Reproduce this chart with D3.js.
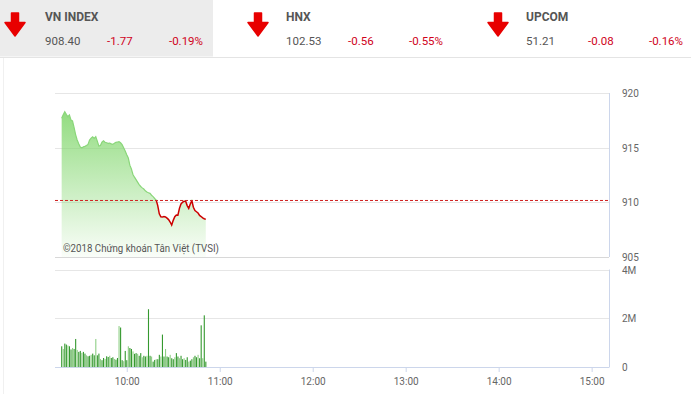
<!DOCTYPE html>
<html>
<head>
<meta charset="utf-8">
<script src="https://cdn.jsdelivr.net/npm/d3@7"></script>
<style>
    body { margin: 0; background: #fff; font-family: Roboto, "Noto Sans", sans-serif; }
    svg text { font-family: Roboto, "Noto Sans", sans-serif; }
</style>
</head>
<body>
<div id="chart"></div>
<script>
// header quotes
const index_names = ["VN INDEX", "HNX", "UPCOM"];
const index_values = ["908.40", "102.53", "51.21"];
const index_changes = ["-1.77", "-0.56", "-0.08"];
const index_pcts = ["-0.19%", "-0.55%", "-0.16%"];

// intraday VN-Index, one point per minute from 9:18
const start_minute = 9 * 60 + 18;
const prices = [
    917.68, 918.00, 918.29, 918.05, 917.83, 917.99, 917.53, 917.44, 916.85, 916.20,
    915.70, 915.35, 915.05, 914.98, 915.07, 915.12, 915.20, 915.30, 915.70, 915.88,
    916.00, 915.85, 916.00, 915.60, 915.15, 915.20, 915.50, 915.62, 915.50, 915.45,
    915.40, 915.42, 915.35, 915.30, 915.40, 915.49, 915.52, 915.55, 915.45, 915.28,
    915.00, 914.70, 914.35, 914.05, 913.40, 913.05, 912.55, 912.30, 912.08, 911.85,
    911.62, 911.45, 911.32, 911.22, 911.05, 910.95, 910.88, 910.82, 910.65, 910.52,
    910.35, 910.20, 909.70, 908.95, 908.68, 908.65, 908.70, 908.66, 908.55, 908.42,
    908.20, 907.92, 908.35, 908.68, 908.84, 908.82, 909.45, 909.85, 910.00, 910.12,
    910.10, 909.70, 909.45, 909.85, 910.15, 909.55, 909.25, 909.14, 909.02, 908.80,
    908.70, 908.58, 908.50, 908.44
];
// volume, millions of shares per minute
const volumes = [
    0.85, 0.74, 0.96, 0.92, 0.88, 0.85, 0.72, 0.78, 0.74, 1.15,
    0.70, 0.62, 0.66, 0.58, 0.62, 0.55, 0.48, 0.44, 0.46, 0.50,
    0.55, 0.48, 1.15, 0.48, 0.55, 0.33, 0.28, 0.37, 0.33, 0.44,
    0.41, 0.46, 0.37, 0.40, 0.33, 0.30, 0.37, 1.68, 1.62, 0.28,
    0.24, 0.66, 0.28, 0.85, 0.78, 0.74, 0.64, 0.54, 0.57, 0.54,
    0.46, 0.57, 0.40, 0.46, 0.43, 0.46, 2.37, 0.46, 0.43, 0.22,
    0.29, 0.32, 0.32, 0.50, 0.43, 1.33, 0.43, 0.74, 0.43, 0.40,
    0.50, 0.36, 0.32, 0.40, 0.57, 0.43, 0.36, 0.46, 0.32, 0.36,
    0.29, 0.40, 0.22, 0.26, 0.32, 0.40, 0.46, 0.40, 0.50, 0.36,
    1.71, 0.36, 2.12, 0.22
];
const prev_close = 910.17;
const price_ticks = [905, 910, 915, 920];
const volume_ticks = [0, 2, 4];
const hour_ticks = [10, 11, 12, 13, 14, 15];

const width = 691;
const height = 394;
const plot_left = 55;
const plot_right = 609;
const price_top = 93;
const price_bottom = 257;
const vol_top = 269.5;
const vol_bottom = 367;

const up_color = "#8ad67a";
const down_color = "#cc0000";
const text_color = "#666666";
const grid_color = "#e6e6e6";
const frame_color = "#ccd6eb";

const svg = d3.select("#chart").append("svg")
    .attr("width", width)
    .attr("height", height);

// ---- header ----
svg.append("rect")
    .attr("x", 0).attr("y", 0)
    .attr("width", 213).attr("height", 56.5)
    .attr("fill", "#ececec");
svg.append("line")
    .attr("x1", 0).attr("x2", width)
    .attr("y1", 57.5).attr("y2", 57.5)
    .attr("stroke", "#e4e4e4");
svg.append("line")
    .attr("x1", 3.5).attr("x2", 3.5)
    .attr("y1", 58).attr("y2", height)
    .attr("stroke", "#f0f0f0");

const arrow_cx = [15, 258, 498];
const label_x = [45, 286, 526];
const pct_x = [203, 443, 683];
const arrow_path = "M-3.5,0 L3.5,0 L3.5,9.5 L10,9.5 L0,23 L-10,9.5 L-3.5,9.5 Z";
index_names.forEach(function (name, i) {
    svg.append("path")
        .attr("d", arrow_path)
        .attr("transform", `translate(${arrow_cx[i]},13)`)
        .attr("fill", "#e80000")
        .attr("stroke", "#e80000")
        .attr("stroke-linejoin", "round")
        .attr("stroke-width", 1.5);
    const tx = label_x[i];
    svg.append("text")
        .attr("x", tx).attr("y", 21)
        .attr("font-size", 12)
        .attr("font-weight", "bold")
        .attr("fill", "#555")
        .text(name);
    svg.append("text")
        .attr("x", tx).attr("y", 45)
        .attr("font-size", 11.5)
        .attr("fill", "#555")
        .text(index_values[i]);
    svg.append("text")
        .attr("x", tx + 62).attr("y", 45)
        .attr("font-size", 11.5)
        .attr("fill", "#d0021b")
        .text(index_changes[i]);
    svg.append("text")
        .attr("x", pct_x[i]).attr("y", 45)
        .attr("text-anchor", "end")
        .attr("font-size", 11.5)
        .attr("fill", "#d0021b")
        .text(index_pcts[i]);
});

// ---- scales ----
const xScale = d3.scaleLinear()
    .domain([553.7, 911.2])
    .range([plot_left, plot_right]);
const yPrice = d3.scaleLinear()
    .domain([905, 920])
    .range([price_bottom, price_top]);
const yVol = d3.scaleLinear()
    .domain([0, 4])
    .range([vol_bottom, vol_top]);

const series = prices.map((p, i) => ({t: start_minute + i, p: p, v: volumes[i]}));

// ---- price panel ----
const defs = svg.append("defs");
const grad = defs.append("linearGradient")
    .attr("id", "area_grad")
    .attr("x1", 0).attr("x2", 0).attr("y1", 0).attr("y2", 1);
grad.append("stop").attr("offset", "0%").attr("stop-color", "#7fd66a").attr("stop-opacity", 0.85);
grad.append("stop").attr("offset", "100%").attr("stop-color", "#7fd66a").attr("stop-opacity", 0.04);

defs.append("clipPath").attr("id", "clip_up")
    .append("rect")
    .attr("x", plot_left).attr("y", price_top - 20)
    .attr("width", plot_right - plot_left)
    .attr("height", yPrice(prev_close) - price_top + 20);
defs.append("clipPath").attr("id", "clip_down")
    .append("rect")
    .attr("x", plot_left).attr("y", yPrice(prev_close))
    .attr("width", plot_right - plot_left)
    .attr("height", price_bottom - yPrice(prev_close));

// grid lines
svg.append("g")
    .selectAll("line")
    .data(price_ticks)
    .join("line")
    .attr("x1", plot_left).attr("x2", plot_right)
    .attr("y1", d => Math.round(yPrice(d)) + 0.5)
    .attr("y2", d => Math.round(yPrice(d)) + 0.5)
    .attr("stroke", (d, i) => (i === 0 ? "#d8d8d8" : grid_color));
svg.append("line")
    .attr("x1", plot_right + 0.5).attr("x2", plot_right + 0.5)
    .attr("y1", price_top).attr("y2", price_bottom)
    .attr("stroke", frame_color);

const area = d3.area()
    .x(d => xScale(d.t))
    .y0(price_bottom)
    .y1(d => yPrice(d.p));
svg.append("path")
    .datum(series)
    .attr("d", area)
    .attr("fill", "url(#area_grad)");

// copyright
svg.append("text")
    .attr("x", 63).attr("y", 252)
    .attr("font-size", 10)
    .attr("fill", "#555")
    .attr("textLength", 156)
    .attr("lengthAdjust", "spacingAndGlyphs")
    .text("©2018 Chứng khoán Tân Việt (TVSI)");

const line = d3.line()
    .x(d => xScale(d.t))
    .y(d => yPrice(d.p));
svg.append("path")
    .datum(series)
    .attr("d", line)
    .attr("fill", "none")
    .attr("stroke", up_color)
    .attr("stroke-width", 1.2)
    .attr("clip-path", "url(#clip_up)");
svg.append("path")
    .datum(series)
    .attr("d", line)
    .attr("fill", "none")
    .attr("stroke", down_color)
    .attr("stroke-width", 1.5)
    .attr("clip-path", "url(#clip_down)");

// previous close reference
svg.append("line")
    .attr("x1", plot_left).attr("x2", plot_right)
    .attr("y1", yPrice(prev_close)).attr("y2", yPrice(prev_close))
    .attr("stroke", "#d02020")
    .attr("stroke-width", 1)
    .attr("stroke-dasharray", "3,2");

// price axis labels
svg.append("g")
    .selectAll("text")
    .data(price_ticks)
    .join("text")
    .attr("x", 622)
    .attr("y", d => yPrice(d) + 4)
    .attr("font-size", 10)
    .attr("fill", text_color)
    .text(d => d);

// ---- volume panel ----
svg.append("g")
    .selectAll("line")
    .data(volume_ticks.filter(d => d > 0))
    .join("line")
    .attr("x1", plot_left).attr("x2", plot_right)
    .attr("y1", d => Math.round(yVol(d)) + 0.5)
    .attr("y2", d => Math.round(yVol(d)) + 0.5)
    .attr("stroke", grid_color);
svg.append("line")
    .attr("x1", plot_right + 0.5).attr("x2", plot_right + 0.5)
    .attr("y1", vol_top).attr("y2", vol_bottom)
    .attr("stroke", frame_color);

svg.append("g")
    .selectAll("rect")
    .data(series)
    .join("rect")
    .attr("x", d => xScale(d.t) - 0.5)
    .attr("y", d => yVol(d.v))
    .attr("width", 1.1)
    .attr("height", d => vol_bottom - yVol(d.v))
    .attr("fill", (d, i) => (i % 3 === 1 ? "#8fcf86" : "#35992f"));

svg.append("g")
    .selectAll("text")
    .data(volume_ticks)
    .join("text")
    .attr("x", 622)
    .attr("y", d => yVol(d) + 4)
    .attr("font-size", 10)
    .attr("fill", text_color)
    .text(d => (d === 0 ? "0" : d + "M"));

// time axis
const xAxis = d3.axisBottom(xScale)
    .tickValues(hour_ticks.map(h => h * 60))
    .tickSize(5)
    .tickFormat(m => `${Math.floor(m / 60)}:00`);
const axis_g = svg.append("g")
    .attr("transform", `translate(0,${vol_bottom})`)
    .call(xAxis);
axis_g.select(".domain")
    .attr("d", `M${plot_left},0.5H${plot_right + 0.5}`)
    .attr("stroke", frame_color);
axis_g.selectAll(".tick line").attr("stroke", frame_color);
axis_g.selectAll(".tick text")
    .attr("font-size", 10)
    .attr("fill", text_color)
    .attr("font-family", "Roboto, sans-serif")
    .attr("dy", "0.95em");
</script>
</body>
</html>
